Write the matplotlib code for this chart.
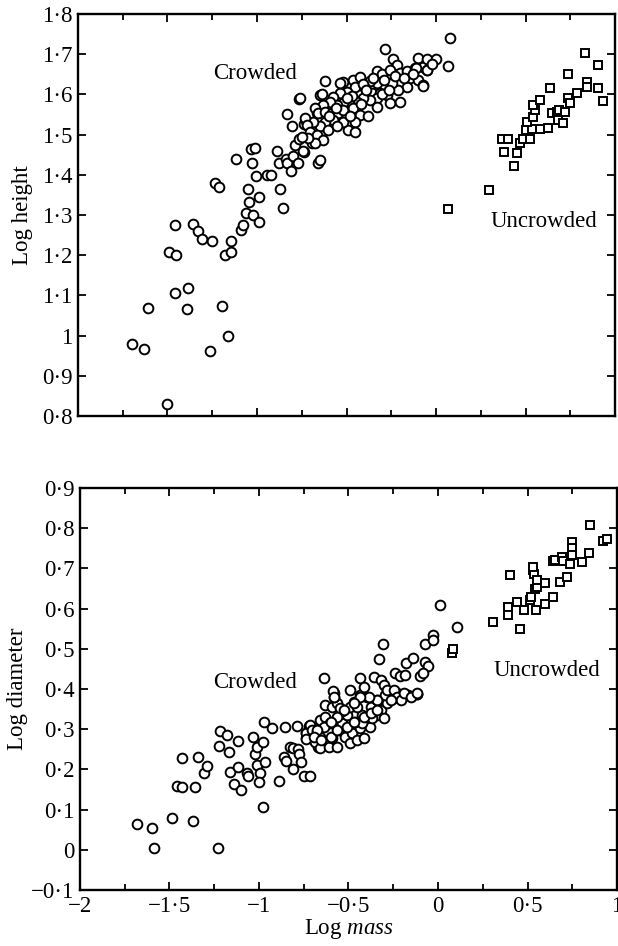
import matplotlib
matplotlib.use('Agg')
import matplotlib.pyplot as plt
from matplotlib.ticker import MultipleLocator, FuncFormatter

plt.rcParams['font.family'] = ['Liberation Serif', 'DejaVu Serif']
plt.rcParams['mathtext.fontset'] = 'custom'
plt.rcParams['mathtext.it'] = 'Liberation Serif:italic'
plt.rcParams['mathtext.rm'] = 'Liberation Serif'

# log height vs log mass, crowded plants
crowded_mass_h = [-1.70, -1.63, -1.61, -1.50, -1.49, -1.45, -1.46, -1.46, -1.385, -1.39,
                  -1.36, -1.33, -1.31, -1.26, -1.25, -1.235, -1.21, -1.195, -1.16, -1.18,
                  -1.145, -1.145, -1.12, -1.09, -1.08, -1.06, -1.05, -1.045, -1.035, -1.01,
                  -1.03, -1.005, -1.02, -0.99, -0.99, -0.945, -0.92, -0.89, -0.87, -0.855,
                  -0.875, -0.84, -0.83, -0.83, -0.81, -0.805, -0.80, -0.79, -0.77, -0.765,
                  -0.765, -0.74, -0.735, -0.725, -0.715, -0.695, -0.69, -0.67, -0.665, -0.66,
                  -0.620, -0.518, -0.462, -0.425, -0.453, -0.499, -0.537, -0.574, -0.332, -0.304,
                  -0.239, -0.220, -0.257, -0.201, -0.164, -0.145, -0.118, -0.099, -0.071, -0.052,
                  -0.099, -0.071, -0.164, -0.211, -0.248, -0.294, -0.332, -0.369, -0.397, -0.360,
                  -0.313, -0.276, -0.332, -0.369, -0.406, -0.443, -0.481, -0.518, -0.555, -0.592,
                  -0.630, -0.648, -0.676, -0.658, -0.620, -0.583, -0.546, -0.518, -0.462, -0.425,
                  -0.453, -0.490, -0.453, -0.378, -0.332, -0.257, -0.201, -0.518, -0.574, -0.620,
                  -0.648, -0.686, -0.732, -0.723, -0.704, -0.667, -0.630, -0.676, -0.713, -0.751,
                  -0.741, -0.648, -0.760, -0.602, -0.555, -0.481, -0.285, -0.050, 0.000, -0.110,
                  -0.050, -0.070, 0.078, 0.067, -0.536, -0.637,
                  -0.410, -0.350, -0.290, -0.230, -0.180, -0.470, -0.390, -0.300, -0.560, -0.600,
                  -0.500, -0.420, -0.260, -0.130, -0.020]
crowded_height = [0.979, 0.967, 1.069, 0.830, 1.208, 1.200, 1.275, 1.107, 1.118, 1.066,
                  1.277, 1.260, 1.240, 0.962, 1.235, 1.380, 1.370, 1.074, 0.999, 1.200,
                  1.208, 1.235, 1.440, 1.263, 1.275, 1.305, 1.365, 1.332, 1.464, 1.467,
                  1.430, 1.397, 1.300, 1.345, 1.282, 1.400, 1.400, 1.460, 1.365, 1.318,
                  1.430, 1.440, 1.550, 1.430, 1.410, 1.520, 1.447, 1.475, 1.430, 1.490,
                  1.588, 1.457, 1.527, 1.534, 1.520, 1.480, 1.510, 1.495, 1.554, 1.430,
                  1.633, 1.630, 1.636, 1.644, 1.619, 1.607, 1.603, 1.594, 1.657, 1.650,
                  1.688, 1.673, 1.661, 1.652, 1.657, 1.640, 1.665, 1.690, 1.669, 1.661,
                  1.636, 1.622, 1.619, 1.611, 1.628, 1.619, 1.628, 1.632, 1.615, 1.603,
                  1.603, 1.598, 1.590, 1.586, 1.590, 1.582, 1.574, 1.578, 1.574, 1.582,
                  1.574, 1.598, 1.565, 1.553, 1.557, 1.553, 1.553, 1.561, 1.565, 1.549,
                  1.532, 1.511, 1.507, 1.545, 1.569, 1.578, 1.582, 1.532, 1.536, 1.532,
                  1.520, 1.532, 1.540, 1.524, 1.507, 1.499, 1.487, 1.478, 1.491, 1.495,
                  1.458, 1.437, 1.590, 1.511, 1.520, 1.545, 1.713, 1.688, 1.688, 1.666,
                  1.660, 1.620, 1.740, 1.670, 1.628, 1.600,
                  1.625, 1.640, 1.635, 1.645, 1.640, 1.595, 1.610, 1.600, 1.565, 1.545,
                  1.590, 1.575, 1.610, 1.650, 1.675]

# log height vs log mass, uncrowded plants
uncrowded_mass_h = [0.067, 0.296, 0.436, 0.380, 0.452, 0.369, 0.400, 0.470, 0.486, 0.525,
                    0.503, 0.536, 0.580, 0.626, 0.508, 0.540, 0.553, 0.542, 0.580, 0.637,
                    0.648, 0.676, 0.687, 0.720, 0.680, 0.710, 0.737, 0.749, 0.788, 0.737,
                    0.843, 0.843, 0.905, 0.832, 0.905, 0.933]
uncrowded_height = [1.315, 1.362, 1.422, 1.457, 1.454, 1.489, 1.489, 1.479, 1.490, 1.490,
                    1.511, 1.514, 1.514, 1.516, 1.531, 1.544, 1.561, 1.574, 1.586, 1.616,
                    1.554, 1.556, 1.561, 1.556, 1.536, 1.529, 1.590, 1.579, 1.603, 1.651,
                    1.631, 1.619, 1.616, 1.703, 1.673, 1.584]

# log diameter vs log mass, crowded plants
crowded_mass_d = [-1.68, -1.595, -1.585, -1.485, -1.37, -1.23, -0.98, -1.46, -1.43, -1.355,
                  -1.43, -1.34, -1.305, -1.29, -1.225, -1.22, -1.18, -1.17, -1.16, -1.12,
                  -1.14, -1.10, -1.12, -1.065, -1.06, -1.035, -1.025, -1.01, -0.98, -1.01,
                  -0.995, -1.00, -0.97, -0.925, -0.965, -0.89, -0.855, -0.86, -0.85, -0.825,
                  -0.81, -0.81, -0.79, -0.78, -0.775, -0.765, -0.75, -0.715, -0.74, -0.735,
                  -0.72, -0.70, -0.68, -0.67,
                  -0.735, -0.716, -0.703, -0.740, -0.632, -0.591, -0.657, -0.629, -0.601, -0.638,
                  -0.675, -0.657, -0.685, -0.638, -0.660, -0.610, -0.592, -0.564, -0.554, -0.536,
                  -0.508, -0.536, -0.489, -0.471, -0.517, -0.480, -0.489, -0.452, -0.415, -0.433,
                  -0.461, -0.396, -0.378, -0.424, -0.433, -0.396, -0.377, -0.340, -0.321, -0.284,
                  -0.294, -0.247, -0.228, -0.172, -0.117, -0.340, -0.368, -0.303, -0.564, -0.545,
                  -0.424, -0.452, -0.582, -0.582,
                  -0.305, -0.330, -0.635, -0.585, -0.580, -0.070, -0.026, -0.026, -0.180, -0.140,
                  -0.070, -0.055, -0.100, -0.085, -0.120, -0.170, -0.240, -0.210, -0.185, 0.013,
                  0.105, -0.433, -0.414, -0.358, -0.321, -0.302, -0.284, -0.246, -0.228, -0.209,
                  -0.265, -0.340, -0.386, -0.433, -0.470, -0.526, -0.563, -0.600, -0.675, -0.693,
                  -0.656, -0.600, -0.563, -0.507, -0.470, -0.414, -0.377, -0.340, -0.489, -0.190,
                  -0.153, -0.116]
crowded_diam = [0.064, 0.054, 0.004, 0.079, 0.072, 0.004, 0.107, 0.159, 0.156, 0.156,
                0.228, 0.231, 0.190, 0.208, 0.258, 0.296, 0.286, 0.243, 0.194, 0.206,
                0.164, 0.149, 0.270, 0.190, 0.184, 0.280, 0.238, 0.255, 0.268, 0.211,
                0.190, 0.169, 0.318, 0.303, 0.218, 0.171, 0.305, 0.230, 0.220, 0.255,
                0.253, 0.200, 0.308, 0.251, 0.238, 0.218, 0.184, 0.184, 0.290, 0.278,
                0.308, 0.300, 0.268, 0.256,
                0.290, 0.310, 0.298, 0.275, 0.360, 0.356, 0.323, 0.331, 0.315, 0.306,
                0.294, 0.281, 0.269, 0.269, 0.252, 0.256, 0.277, 0.256, 0.298, 0.315,
                0.335, 0.344, 0.356, 0.368, 0.281, 0.290, 0.265, 0.273, 0.277, 0.302,
                0.319, 0.323, 0.306, 0.335, 0.385, 0.381, 0.356, 0.373, 0.348, 0.364,
                0.385, 0.377, 0.389, 0.385, 0.387, 0.335, 0.327, 0.327, 0.364, 0.352,
                0.315, 0.356, 0.389, 0.379,
                0.512, 0.475, 0.427, 0.395, 0.380, 0.512, 0.534, 0.522, 0.465, 0.477,
                0.467, 0.457, 0.432, 0.440, 0.388, 0.385, 0.440, 0.432, 0.435, 0.609,
                0.554, 0.427, 0.406, 0.431, 0.422, 0.410, 0.398, 0.398, 0.381, 0.373,
                0.373, 0.373, 0.381, 0.381, 0.364, 0.348, 0.331, 0.319, 0.298, 0.281,
                0.273, 0.281, 0.298, 0.306, 0.319, 0.331, 0.339, 0.348, 0.398, 0.389,
                0.381, 0.389]

# log diameter vs log mass, uncrowded plants
uncrowded_mass_d = [0.080, 0.085, 0.310, 0.405, 0.390, 0.390, 0.440, 0.460, 0.480, 0.515,
                    0.520, 0.540, 0.555, 0.550, 0.595, 0.645, 0.530, 0.535, 0.555, 0.595,
                    0.530, 0.680, 0.720, 0.645, 0.655, 0.695, 0.700, 0.750, 0.750, 0.750,
                    0.740, 0.805, 0.845, 0.850, 0.920, 0.945]
uncrowded_diam = [0.490, 0.500, 0.567, 0.683, 0.604, 0.584, 0.616, 0.549, 0.597, 0.621,
                  0.629, 0.649, 0.654, 0.597, 0.611, 0.629, 0.696, 0.686, 0.671, 0.664,
                  0.703, 0.666, 0.679, 0.718, 0.721, 0.728, 0.718, 0.766, 0.751, 0.733,
                  0.711, 0.716, 0.738, 0.808, 0.768, 0.773]

x_limits = (-2, 1)
height_limits = (0.8, 1.8)
diam_limits = (-0.1, 0.9)


def dot_format(v, pos):
    # old-style decimal point (raised dot) and a proper minus sign
    s = '{:g}'.format(round(v, 3))
    if s == '-0':
        s = '0'
    return s.replace('.', '\u00b7').replace('-', '\u2212')


def style_axes(ax, ylims):
    ax.set_xlim(*x_limits)
    ax.set_ylim(*ylims)
    for sp in ax.spines.values():
        sp.set_linewidth(1.7)
    ax.xaxis.set_major_locator(MultipleLocator(0.5))
    ax.xaxis.set_minor_locator(MultipleLocator(0.25))
    ax.yaxis.set_major_locator(MultipleLocator(0.1))
    ax.tick_params(which='both', direction='in', top=True, right=True, width=1.3)
    ax.tick_params(which='major', length=6, labelsize=16.5, pad=4)
    ax.tick_params(which='minor', length=4)
    ax.xaxis.set_major_formatter(FuncFormatter(dot_format))
    ax.yaxis.set_major_formatter(FuncFormatter(dot_format))


fig = plt.figure(figsize=(6.18, 9.46), dpi=100)
ax_h = fig.add_axes([0.1262, 0.5603, 0.8690, 0.4250])
ax_d = fig.add_axes([0.1294, 0.0592, 0.8690, 0.4250])

circle = dict(linestyle='none', marker='o', markersize=7, markerfacecolor='white',
              markeredgecolor='black', markeredgewidth=1.4)
square = dict(linestyle='none', marker='s', markersize=6.3, markerfacecolor='white',
              markeredgecolor='black', markeredgewidth=1.4)

ax_h.plot(crowded_mass_h, crowded_height, **circle)
ax_h.plot(uncrowded_mass_h, uncrowded_height, **square)
style_axes(ax_h, height_limits)
ax_h.tick_params(axis='x', labelbottom=False)
ax_h.set_ylabel('Log height', fontsize=16.5, labelpad=6)
ax_h.text(-1.01, 1.651, 'Crowded', fontsize=16.5, ha='center', va='center')
ax_h.text(0.60, 1.283, 'Uncrowded', fontsize=16.5, ha='center', va='center')

ax_d.plot(crowded_mass_d, crowded_diam, **circle)
ax_d.plot(uncrowded_mass_d, uncrowded_diam, **square)
style_axes(ax_d, diam_limits)
ax_d.set_ylabel('Log diameter', fontsize=16.5, labelpad=2)
ax_d.set_xlabel(r'Log $\mathit{mass}$', fontsize=16.5, labelpad=0)
ax_d.text(-1.02, 0.417, 'Crowded', fontsize=16.5, ha='center', va='center')
ax_d.text(0.61, 0.447, 'Uncrowded', fontsize=16.5, ha='center', va='center')

fig.savefig('out.png', dpi=100)
